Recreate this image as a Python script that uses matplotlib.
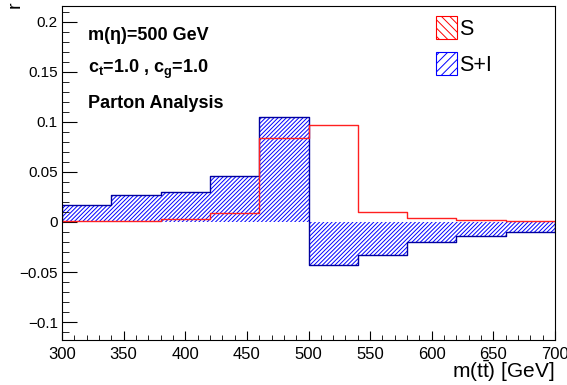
import numpy as np
import matplotlib
matplotlib.use("Agg")
import matplotlib.pyplot as plt
from matplotlib.patches import Patch
from matplotlib.ticker import MultipleLocator, FuncFormatter

plt.rcParams["font.family"] = ["Liberation Sans", "DejaVu Sans"]
plt.rcParams["mathtext.fontset"] = "custom"
plt.rcParams["mathtext.rm"] = "Liberation Sans"
plt.rcParams["mathtext.bf"] = "Liberation Sans:bold"
plt.rcParams["hatch.linewidth"] = 0.7

# m(tt) bin edges [GeV]
bin_edges = [300, 340, 380, 420, 460, 500, 540, 580, 620, 660, 700]
# signal only
r_signal = [0.001, 0.001, 0.003, 0.009, 0.084, 0.097, 0.0103, 0.0037, 0.0017, 0.001]
# signal + interference
r_sig_int = [0.0167, 0.0267, 0.030, 0.046, 0.105, -0.043, -0.033, -0.020, -0.0137, -0.010]

fig = plt.figure(figsize=(5.67, 3.85), dpi=100)
ax = fig.add_axes([62 / 567, 1 - 340 / 385, (555 - 62) / 567, (340 - 6) / 385])

edges = np.array(bin_edges)
sig = np.array(r_signal)
si = np.array(r_sig_int)

# S+I : hatched fill between 0 and value
for i in range(len(si)):
    ax.fill_between([edges[i], edges[i + 1]], 0, si[i], facecolor="none",
                    edgecolor="#0000ff", hatch="////////", linewidth=0)
si_step = np.append(si, si[-1])
ax.step(edges, si_step, where="post", color="#0000a0", lw=1.0)
ax.plot([edges[0], edges[0]], [0, si[0]], color="#0000a0", lw=1.0)
ax.plot([edges[-1], edges[-1]], [0, si[-1]], color="#0000a0", lw=1.0)

# S : red line
sig_step = np.append(sig, sig[-1])
ax.step(edges, sig_step, where="post", color="#ff2020", lw=1.0)

ax.set_xlim(300, 700)
ax.set_ylim(-0.118, 0.216)

ax.xaxis.set_major_locator(MultipleLocator(50))
ax.xaxis.set_minor_locator(MultipleLocator(10))
ax.yaxis.set_major_locator(MultipleLocator(0.05))
ax.yaxis.set_minor_locator(MultipleLocator(0.01))
ax.yaxis.set_major_formatter(FuncFormatter(lambda v, p: ("%g" % round(v, 3)).replace("-", "\u2212")))
ax.tick_params(axis="both", which="both", direction="in",
               top=False, right=False, color="black")
ax.tick_params(axis="x", which="major", length=6.5, pad=5, labelsize=12)
ax.tick_params(axis="x", which="minor", length=3.5)
ax.tick_params(axis="y", which="major", length=10.5, pad=3, labelsize=11)
ax.tick_params(axis="y", which="minor", length=5)
for s in ax.spines.values():
    s.set_linewidth(0.8)

fig.text(555 / 567, 1 - 384 / 385, r"m(t$\bar{\mathrm{t}}$) [GeV]", fontsize=15,
         ha="right", va="bottom")
fig.text(15 / 567, 1 - 1 / 385, "r", rotation=90, ha="center", va="top", fontsize=14)

fig.text(88 / 567, 1 - 35 / 385, "m(\u03b7)=500 GeV", fontweight="bold", fontsize=13, va="center")
fig.text(88 / 567, 1 - 69 / 385, r"c$_\mathbf{t}$=1.0 , c$_\mathbf{g}$=1.0", fontweight="bold",
         fontsize=13, va="center")
fig.text(88 / 567, 1 - 103 / 385, "Parton Analysis", fontweight="bold", fontsize=13, va="center")

handles = [
    Patch(facecolor="white", edgecolor="#ff0000", hatch="\\\\\\\\", label="S", lw=0.8),
    Patch(facecolor="white", edgecolor="#0000ff", hatch="////", label="S+I", lw=0.8),
]
fig.legend(handles=handles, loc="upper left", bbox_to_anchor=(436 / 567, 1 - 16 / 385),
           frameon=False, fontsize=15.5, handlelength=0.98, handleheight=1.3,
           handletextpad=0.1, labelspacing=0.55, borderpad=0, borderaxespad=0)

fig.savefig("out.png", dpi=100)
